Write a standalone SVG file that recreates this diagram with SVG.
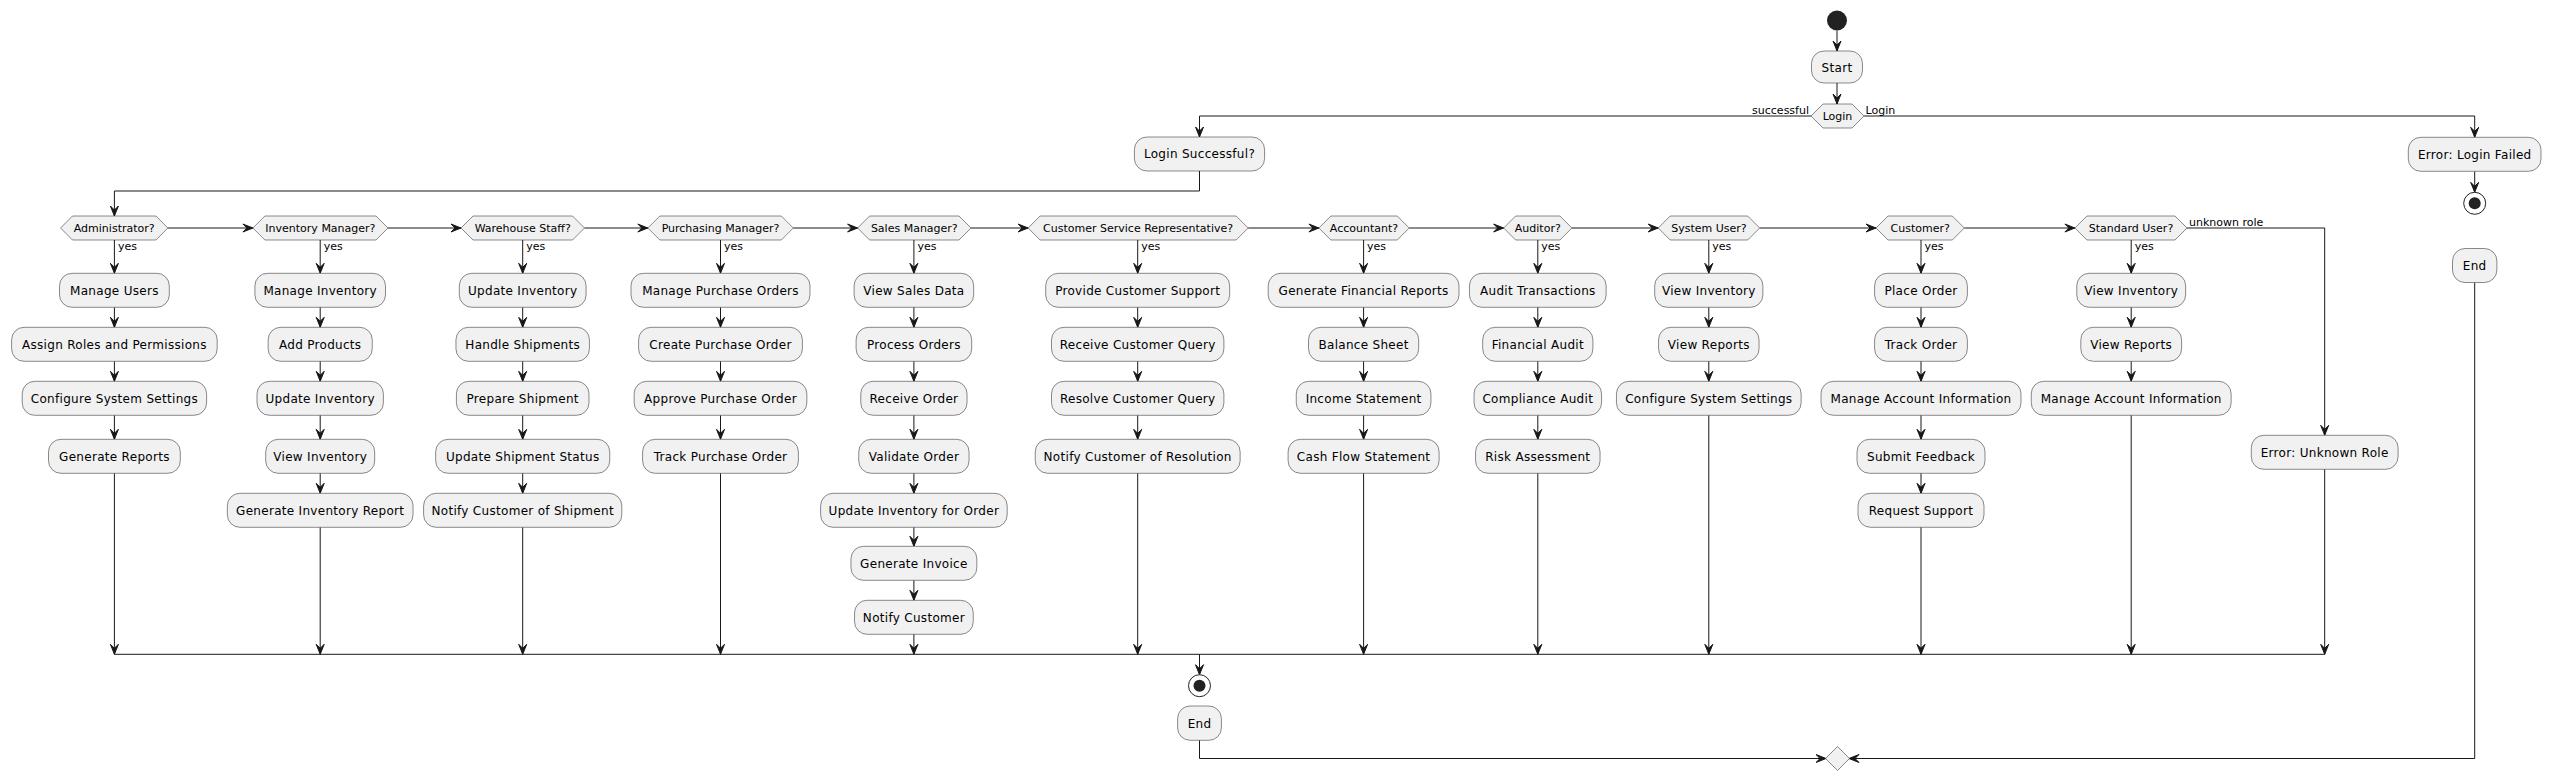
<svg xmlns="http://www.w3.org/2000/svg" width="2551" height="781" viewBox="0 0 2551 781">
<style>
.n{fill:#F1F1F1;stroke:#181818;stroke-width:0.5}
.t{font-family:"DejaVu Sans",sans-serif;font-size:12px;letter-spacing:0.3px;fill:#000000;text-anchor:middle}
.ts{font-family:"DejaVu Sans",sans-serif;font-size:11px;fill:#000000;text-anchor:middle}
.l{font-family:"DejaVu Sans",sans-serif;font-size:11px;fill:#000000}
.c{fill:none;stroke:#181818;stroke-width:1}
.ca{fill:none;stroke:#181818;stroke-width:1;marker-end:url(#a)}
</style>
<defs>
<marker id="a" markerUnits="userSpaceOnUse" markerWidth="12" markerHeight="10" refX="10.5" refY="5" orient="auto" viewBox="0 0 12 10"><path d="M0.5,1 L10.5,5 L0.5,9 L4.5,5 Z" fill="#181818" stroke="#181818" stroke-width="1" stroke-linejoin="miter"/></marker>
</defs>
<rect width="2551" height="781" fill="#FFFFFF"/>

<g id="connectors">
<path class="ca" d="M1837,30.7 V51"/>
<path class="ca" d="M1837,83 V104"/>
<path class="ca" d="M1811,116 H1199.5 V137"/>
<path class="ca" d="M1864,116 H2474.7 V137.3"/>
<path class="ca" d="M1199.5,171 V191 H114.4 V216"/>
<path class="ca" d="M2474.7,171.3 V192.3"/>
<!-- decision chain -->
<path class="ca" d="M167.9,228 H252.9"/>
<path class="ca" d="M388,228 H461"/>
<path class="ca" d="M584.5,228 H647.8"/>
<path class="ca" d="M793.3,228 H857.6"/>
<path class="ca" d="M971,228 H1028.1"/>
<path class="ca" d="M1248.2,228 H1318.9"/>
<path class="ca" d="M1409.2,228 H1503.6"/>
<path class="ca" d="M1571.9,228 H1658.2"/>
<path class="ca" d="M1759.7,228 H1876"/>
<path class="ca" d="M1964.3,228 H2074.9"/>
<path class="ca" d="M2187,228 H2324.7 V435.3"/>
<!-- Admin -->
<path class="ca" d="M114.4,240 V273.3"/>
<path class="ca" d="M114.4,307.3 V327.3"/>
<path class="ca" d="M114.4,361.3 V381.3"/>
<path class="ca" d="M114.4,415.3 V439.3"/>
<path class="ca" d="M114.4,473.3 V654.3"/>
<!-- Inventory -->
<path class="ca" d="M320.2,240 V273.3"/>
<path class="ca" d="M320.2,307.3 V327.3"/>
<path class="ca" d="M320.2,361.3 V381.3"/>
<path class="ca" d="M320.2,415.3 V439.3"/>
<path class="ca" d="M320.2,473.3 V493.3"/>
<path class="ca" d="M320.2,527.3 V654.3"/>
<!-- Warehouse -->
<path class="ca" d="M522.7,240 V273.3"/>
<path class="ca" d="M522.7,307.3 V327.3"/>
<path class="ca" d="M522.7,361.3 V381.3"/>
<path class="ca" d="M522.7,415.3 V439.3"/>
<path class="ca" d="M522.7,473.3 V493.3"/>
<path class="ca" d="M522.7,527.3 V654.3"/>
<!-- Purchasing -->
<path class="ca" d="M720.5,240 V273.3"/>
<path class="ca" d="M720.5,307.3 V327.3"/>
<path class="ca" d="M720.5,361.3 V381.3"/>
<path class="ca" d="M720.5,415.3 V439.3"/>
<path class="ca" d="M720.5,473.3 V654.3"/>
<!-- Sales -->
<path class="ca" d="M913.9,240 V273.3"/>
<path class="ca" d="M913.9,307.3 V327.3"/>
<path class="ca" d="M913.9,361.3 V381.3"/>
<path class="ca" d="M913.9,415.3 V439.3"/>
<path class="ca" d="M913.9,473.3 V493.3"/>
<path class="ca" d="M913.9,527.3 V546.3"/>
<path class="ca" d="M913.9,580.3 V600.3"/>
<path class="ca" d="M913.9,634.3 V654.3"/>
<!-- CSR -->
<path class="ca" d="M1137.7,240 V273.3"/>
<path class="ca" d="M1137.7,307.3 V327.3"/>
<path class="ca" d="M1137.7,361.3 V381.3"/>
<path class="ca" d="M1137.7,415.3 V439.3"/>
<path class="ca" d="M1137.7,473.3 V654.3"/>
<!-- Accountant -->
<path class="ca" d="M1363.6,240 V273.3"/>
<path class="ca" d="M1363.6,307.3 V327.3"/>
<path class="ca" d="M1363.6,361.3 V381.3"/>
<path class="ca" d="M1363.6,415.3 V439.3"/>
<path class="ca" d="M1363.6,473.3 V654.3"/>
<!-- Auditor -->
<path class="ca" d="M1537.8,240 V273.3"/>
<path class="ca" d="M1537.8,307.3 V327.3"/>
<path class="ca" d="M1537.8,361.3 V381.3"/>
<path class="ca" d="M1537.8,415.3 V439.3"/>
<path class="ca" d="M1537.8,473.3 V654.3"/>
<!-- System User -->
<path class="ca" d="M1708.8,240 V273.3"/>
<path class="ca" d="M1708.8,307.3 V327.3"/>
<path class="ca" d="M1708.8,361.3 V381.3"/>
<path class="ca" d="M1708.8,415.3 V654.3"/>
<!-- Customer -->
<path class="ca" d="M1921,240 V273.3"/>
<path class="ca" d="M1921,307.3 V327.3"/>
<path class="ca" d="M1921,361.3 V381.3"/>
<path class="ca" d="M1921,415.3 V439.3"/>
<path class="ca" d="M1921,473.3 V493.3"/>
<path class="ca" d="M1921,527.3 V654.3"/>
<!-- Standard User -->
<path class="ca" d="M2131.2,240 V273.3"/>
<path class="ca" d="M2131.2,307.3 V327.3"/>
<path class="ca" d="M2131.2,361.3 V381.3"/>
<path class="ca" d="M2131.2,415.3 V654.3"/>
<!-- Unknown -->
<path class="ca" d="M2324.7,469.3 V654.3"/>
<!-- merge bar -->
<path class="c" d="M114.4,654.3 H2324.7"/>
<path class="ca" d="M1199.5,654.3 V674.7"/>
<path class="ca" d="M1199.5,740.3 V758.5 H1826"/>
<path class="ca" d="M2474.7,282.6 V758.5 H1849"/>
<!-- labels -->
<text class="l" x="1809" y="113.5" text-anchor="end">successful</text>
<text class="l" x="1865.5" y="113.5">Login</text>
<text class="l" x="2189" y="225.5">unknown role</text>
<text class="l" x="117.9" y="249.5">yes</text>
<text class="l" x="323.7" y="249.5">yes</text>
<text class="l" x="526.2" y="249.5">yes</text>
<text class="l" x="724" y="249.5">yes</text>
<text class="l" x="917.4" y="249.5">yes</text>
<text class="l" x="1141.2" y="249.5">yes</text>
<text class="l" x="1367.1" y="249.5">yes</text>
<text class="l" x="1541.3" y="249.5">yes</text>
<text class="l" x="1712.3" y="249.5">yes</text>
<text class="l" x="1924.5" y="249.5">yes</text>
<text class="l" x="2134.7" y="249.5">yes</text>
</g>

<g id="start"><circle cx="1837" cy="20.5" r="10" fill="#222222"/></g>
<g id="node-start"><rect class="n" x="1811.5" y="51" width="51" height="32" rx="12.5"/><text class="t" x="1837" y="71.8">Start</text></g>
<g id="dec-login"><polygon class="n" points="1811,116 1823,104 1852,104 1864,116 1852,128 1823,128"/><text class="ts" x="1837.5" y="120">Login</text></g>
<g id="node-login-successful"><rect class="n" x="1134.4" y="137" width="130.2" height="34" rx="12.5"/><text class="t" x="1199.5" y="158.3">Login Successful?</text></g>
<g id="node-login-failed"><rect class="n" x="2408.3" y="137.3" width="132.7" height="34" rx="12.5"/><text class="t" x="2474.7" y="158.6">Error: Login Failed</text></g>
<g id="stop-login-failed"><circle cx="2474.7" cy="203.3" r="11" fill="#FFFFFF" stroke="#222222" stroke-width="1"/><circle cx="2474.7" cy="203.3" r="6" fill="#222222"/></g>
<g id="node-end-right"><rect class="n" x="2452.5" y="248.5" width="44.4" height="34" rx="12.5"/><text class="t" x="2474.7" y="269.8">End</text></g>

<g id="dec-admin"><polygon class="n" points="60.5,228 72.5,216 155.9,216 167.9,228 155.9,240 72.5,240"/><text class="ts" x="114.2" y="232.2">Administrator?</text></g>
<g id="admin-nodes">
<rect class="n" x="59.5" y="273.3" width="109.8" height="34" rx="12.5"/><text class="t" x="114.4" y="294.8">Manage Users</text>
<rect class="n" x="11.6" y="327.3" width="205.6" height="34" rx="12.5"/><text class="t" x="114.4" y="348.8">Assign Roles and Permissions</text>
<rect class="n" x="22.2" y="381.3" width="184.4" height="34" rx="12.5"/><text class="t" x="114.4" y="402.8">Configure System Settings</text>
<rect class="n" x="48.5" y="439.3" width="131.8" height="34" rx="12.5"/><text class="t" x="114.4" y="460.8">Generate Reports</text>
</g>

<g id="dec-inventory"><polygon class="n" points="252.9,228 264.9,216 376,216 388,228 376,240 264.9,240"/><text class="ts" x="320.4" y="232.2">Inventory Manager?</text></g>
<g id="inventory-nodes">
<rect class="n" x="254.9" y="273.3" width="130.6" height="34" rx="12.5"/><text class="t" x="320.2" y="294.8">Manage Inventory</text>
<rect class="n" x="268.15" y="327.3" width="104.1" height="34" rx="12.5"/><text class="t" x="320.2" y="348.8">Add Products</text>
<rect class="n" x="257" y="381.3" width="126.4" height="34" rx="12.5"/><text class="t" x="320.2" y="402.8">Update Inventory</text>
<rect class="n" x="265.7" y="439.3" width="109" height="34" rx="12.5"/><text class="t" x="320.2" y="460.8">View Inventory</text>
<rect class="n" x="227.35" y="493.3" width="185.7" height="34" rx="12.5"/><text class="t" x="320.2" y="514.8">Generate Inventory Report</text>
</g>

<g id="dec-warehouse"><polygon class="n" points="461,228 473,216 572.5,216 584.5,228 572.5,240 473,240"/><text class="ts" x="522.7" y="232.2">Warehouse Staff?</text></g>
<g id="warehouse-nodes">
<rect class="n" x="459.3" y="273.3" width="126.8" height="34" rx="12.5"/><text class="t" x="522.7" y="294.8">Update Inventory</text>
<rect class="n" x="455.95" y="327.3" width="133.5" height="34" rx="12.5"/><text class="t" x="522.7" y="348.8">Handle Shipments</text>
<rect class="n" x="456.4" y="381.3" width="132.6" height="34" rx="12.5"/><text class="t" x="522.7" y="402.8">Prepare Shipment</text>
<rect class="n" x="435.65" y="439.3" width="174.1" height="34" rx="12.5"/><text class="t" x="522.7" y="460.8">Update Shipment Status</text>
<rect class="n" x="423.6" y="493.3" width="198.2" height="34" rx="12.5"/><text class="t" x="522.7" y="514.8">Notify Customer of Shipment</text>
</g>

<g id="dec-purchasing"><polygon class="n" points="647.8,228 659.8,216 781.3,216 793.3,228 781.3,240 659.8,240"/><text class="ts" x="720.5" y="232.2">Purchasing Manager?</text></g>
<g id="purchasing-nodes">
<rect class="n" x="631" y="273.3" width="179" height="34" rx="12.5"/><text class="t" x="720.5" y="294.8">Manage Purchase Orders</text>
<rect class="n" x="638.6" y="327.3" width="163.8" height="34" rx="12.5"/><text class="t" x="720.5" y="348.8">Create Purchase Order</text>
<rect class="n" x="634.15" y="381.3" width="172.7" height="34" rx="12.5"/><text class="t" x="720.5" y="402.8">Approve Purchase Order</text>
<rect class="n" x="642.6" y="439.3" width="155.8" height="34" rx="12.5"/><text class="t" x="720.5" y="460.8">Track Purchase Order</text>
</g>

<g id="dec-sales"><polygon class="n" points="857.6,228 869.6,216 959,216 971,228 959,240 869.6,240"/><text class="ts" x="914.3" y="232.2">Sales Manager?</text></g>
<g id="sales-nodes">
<rect class="n" x="854.1" y="273.3" width="119.6" height="34" rx="12.5"/><text class="t" x="913.9" y="294.8">View Sales Data</text>
<rect class="n" x="856.1" y="327.3" width="115.6" height="34" rx="12.5"/><text class="t" x="913.9" y="348.8">Process Orders</text>
<rect class="n" x="860.75" y="381.3" width="106.3" height="34" rx="12.5"/><text class="t" x="913.9" y="402.8">Receive Order</text>
<rect class="n" x="858.75" y="439.3" width="110.3" height="34" rx="12.5"/><text class="t" x="913.9" y="460.8">Validate Order</text>
<rect class="n" x="820.6" y="493.3" width="186.6" height="34" rx="12.5"/><text class="t" x="913.9" y="514.8">Update Inventory for Order</text>
<rect class="n" x="850.95" y="546.3" width="125.9" height="34" rx="12.5"/><text class="t" x="913.9" y="567.8">Generate Invoice</text>
<rect class="n" x="854.55" y="600.3" width="118.7" height="34" rx="12.5"/><text class="t" x="913.9" y="621.8">Notify Customer</text>
</g>

<g id="dec-csr"><polygon class="n" points="1028.1,228 1040.1,216 1236.2,216 1248.2,228 1236.2,240 1040.1,240"/><text class="ts" x="1138.1" y="232.2">Customer Service Representative?</text></g>
<g id="csr-nodes">
<rect class="n" x="1045.7" y="273.3" width="184" height="34" rx="12.5"/><text class="t" x="1137.7" y="294.8">Provide Customer Support</text>
<rect class="n" x="1051.5" y="327.3" width="172.4" height="34" rx="12.5"/><text class="t" x="1137.7" y="348.8">Receive Customer Query</text>
<rect class="n" x="1051.5" y="381.3" width="172.4" height="34" rx="12.5"/><text class="t" x="1137.7" y="402.8">Resolve Customer Query</text>
<rect class="n" x="1035.25" y="439.3" width="204.9" height="34" rx="12.5"/><text class="t" x="1137.7" y="460.8">Notify Customer of Resolution</text>
</g>

<g id="dec-accountant"><polygon class="n" points="1318.9,228 1330.9,216 1397.2,216 1409.2,228 1397.2,240 1330.9,240"/><text class="ts" x="1364" y="232.2">Accountant?</text></g>
<g id="accountant-nodes">
<rect class="n" x="1268.2" y="273.3" width="190.8" height="34" rx="12.5"/><text class="t" x="1363.6" y="294.8">Generate Financial Reports</text>
<rect class="n" x="1308.5" y="327.3" width="110.2" height="34" rx="12.5"/><text class="t" x="1363.6" y="348.8">Balance Sheet</text>
<rect class="n" x="1296.25" y="381.3" width="134.7" height="34" rx="12.5"/><text class="t" x="1363.6" y="402.8">Income Statement</text>
<rect class="n" x="1288.1" y="439.3" width="151" height="34" rx="12.5"/><text class="t" x="1363.6" y="460.8">Cash Flow Statement</text>
</g>

<g id="dec-auditor"><polygon class="n" points="1503.6,228 1515.6,216 1559.9,216 1571.9,228 1559.9,240 1515.6,240"/><text class="ts" x="1537.8" y="232.2">Auditor?</text></g>
<g id="auditor-nodes">
<rect class="n" x="1469.45" y="273.3" width="136.7" height="34" rx="12.5"/><text class="t" x="1537.8" y="294.8">Audit Transactions</text>
<rect class="n" x="1482.7" y="327.3" width="110.2" height="34" rx="12.5"/><text class="t" x="1537.8" y="348.8">Financial Audit</text>
<rect class="n" x="1474.05" y="381.3" width="127.5" height="34" rx="12.5"/><text class="t" x="1537.8" y="402.8">Compliance Audit</text>
<rect class="n" x="1475.55" y="439.3" width="124.5" height="34" rx="12.5"/><text class="t" x="1537.8" y="460.8">Risk Assessment</text>
</g>

<g id="dec-systemuser"><polygon class="n" points="1658.2,228 1670.2,216 1747.7,216 1759.7,228 1747.7,240 1670.2,240"/><text class="ts" x="1709" y="232.2">System User?</text></g>
<g id="systemuser-nodes">
<rect class="n" x="1654.7" y="273.3" width="108.2" height="34" rx="12.5"/><text class="t" x="1708.8" y="294.8">View Inventory</text>
<rect class="n" x="1658.55" y="327.3" width="100.5" height="34" rx="12.5"/><text class="t" x="1708.8" y="348.8">View Reports</text>
<rect class="n" x="1616.45" y="381.3" width="184.7" height="34" rx="12.5"/><text class="t" x="1708.8" y="402.8">Configure System Settings</text>
</g>

<g id="dec-customer"><polygon class="n" points="1876,228 1888,216 1952.3,216 1964.3,228 1952.3,240 1888,240"/><text class="ts" x="1920.2" y="232.2">Customer?</text></g>
<g id="customer-nodes">
<rect class="n" x="1874.6" y="273.3" width="92.8" height="34" rx="12.5"/><text class="t" x="1921" y="294.8">Place Order</text>
<rect class="n" x="1874.6" y="327.3" width="92.8" height="34" rx="12.5"/><text class="t" x="1921" y="348.8">Track Order</text>
<rect class="n" x="1821" y="381.3" width="200" height="34" rx="12.5"/><text class="t" x="1921" y="402.8">Manage Account Information</text>
<rect class="n" x="1857" y="439.3" width="128" height="34" rx="12.5"/><text class="t" x="1921" y="460.8">Submit Feedback</text>
<rect class="n" x="1858" y="493.3" width="126" height="34" rx="12.5"/><text class="t" x="1921" y="514.8">Request Support</text>
</g>

<g id="dec-standarduser"><polygon class="n" points="2074.9,228 2086.9,216 2175,216 2187,228 2175,240 2086.9,240"/><text class="ts" x="2131" y="232.2">Standard User?</text></g>
<g id="standarduser-nodes">
<rect class="n" x="2076.75" y="273.3" width="108.9" height="34" rx="12.5"/><text class="t" x="2131.2" y="294.8">View Inventory</text>
<rect class="n" x="2080.8" y="327.3" width="100.8" height="34" rx="12.5"/><text class="t" x="2131.2" y="348.8">View Reports</text>
<rect class="n" x="2031.25" y="381.3" width="199.9" height="34" rx="12.5"/><text class="t" x="2131.2" y="402.8">Manage Account Information</text>
</g>

<g id="node-unknown-role"><rect class="n" x="2251.3" y="435.3" width="146.8" height="34" rx="12.5"/><text class="t" x="2324.7" y="456.8">Error: Unknown Role</text></g>

<g id="stop-main"><circle cx="1199.5" cy="685.7" r="11" fill="#FFFFFF" stroke="#222222" stroke-width="1"/><circle cx="1199.5" cy="685.7" r="6" fill="#222222"/></g>
<g id="node-end-center"><rect class="n" x="1177.6" y="706" width="43.8" height="34.3" rx="12.5"/><text class="t" x="1199.5" y="727.5">End</text></g>
<g id="merge-diamond"><polygon class="n" points="1837.5,746.5 1849.5,758.5 1837.5,770.5 1825.5,758.5"/></g>
</svg>
